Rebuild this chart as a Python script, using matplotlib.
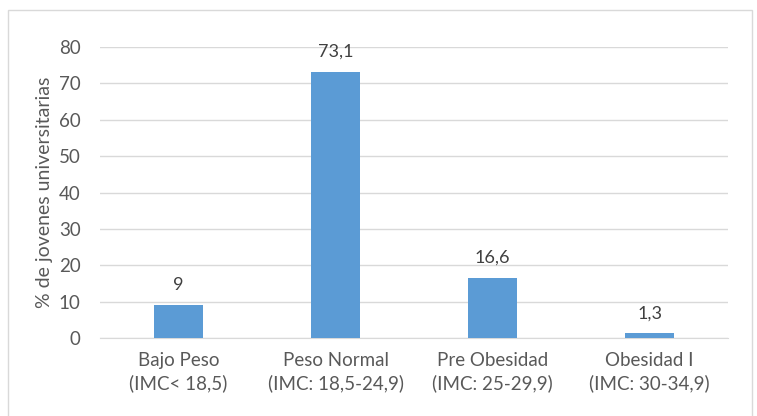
import matplotlib
matplotlib.use("Agg")
from matplotlib import pyplot as plt
from matplotlib.patches import Rectangle

categorias = ["Bajo Peso\n(IMC< 18,5)", "Peso Normal\n(IMC: 18,5-24,9)",
              "Pre Obesidad\n(IMC: 25-29,9)", "Obesidad I\n(IMC: 30-34,9)"]
porcentajes = [9, 73.1, 16.6, 1.3]
etiquetas = ["9", "73,1", "16,6", "1,3"]

plt.rcParams['font.family'] = ['Lato', 'DejaVu Sans']
gris = "#595959"

fig = plt.figure(figsize=(7.57, 4.16), dpi=100)
fig.patches.append(Rectangle((0.011, -0.01), 0.982, 0.986, transform=fig.transFigure,
                             fill=False, edgecolor="#d9d9d9", linewidth=1))
ax = fig.add_axes([0.132, 0.1875, 0.83, 0.6995])

x = range(len(categorias))
ax.bar(x, porcentajes, width=0.31, color="#5b9bd5", zorder=3)
for xi, v, t in zip(x, porcentajes, etiquetas):
    ax.text(xi, v + 3.3, t, ha="center", va="bottom", fontsize=13, color="#404040")

ax.set_xlim(-0.5, 3.5)
ax.set_ylim(0, 80)
ax.set_yticks(range(0, 81, 10))
ax.grid(axis="y", color="#d9d9d9", linewidth=1, zorder=0)
ax.set_xticks(list(x))
ax.set_xticklabels(categorias, fontsize=13.5, color=gris, linespacing=1.35)
ax.tick_params(axis="y", labelsize=13.5, labelcolor=gris, length=0, pad=14)
ax.tick_params(axis="x", length=0, pad=10)
for s in ["top", "right", "left"]:
    ax.spines[s].set_visible(False)
ax.spines["bottom"].set_color("#d9d9d9")
ax.set_ylabel("% de jovenes universitarias", fontsize=14, color=gris, labelpad=4)

fig.savefig("out.png", dpi=100)
